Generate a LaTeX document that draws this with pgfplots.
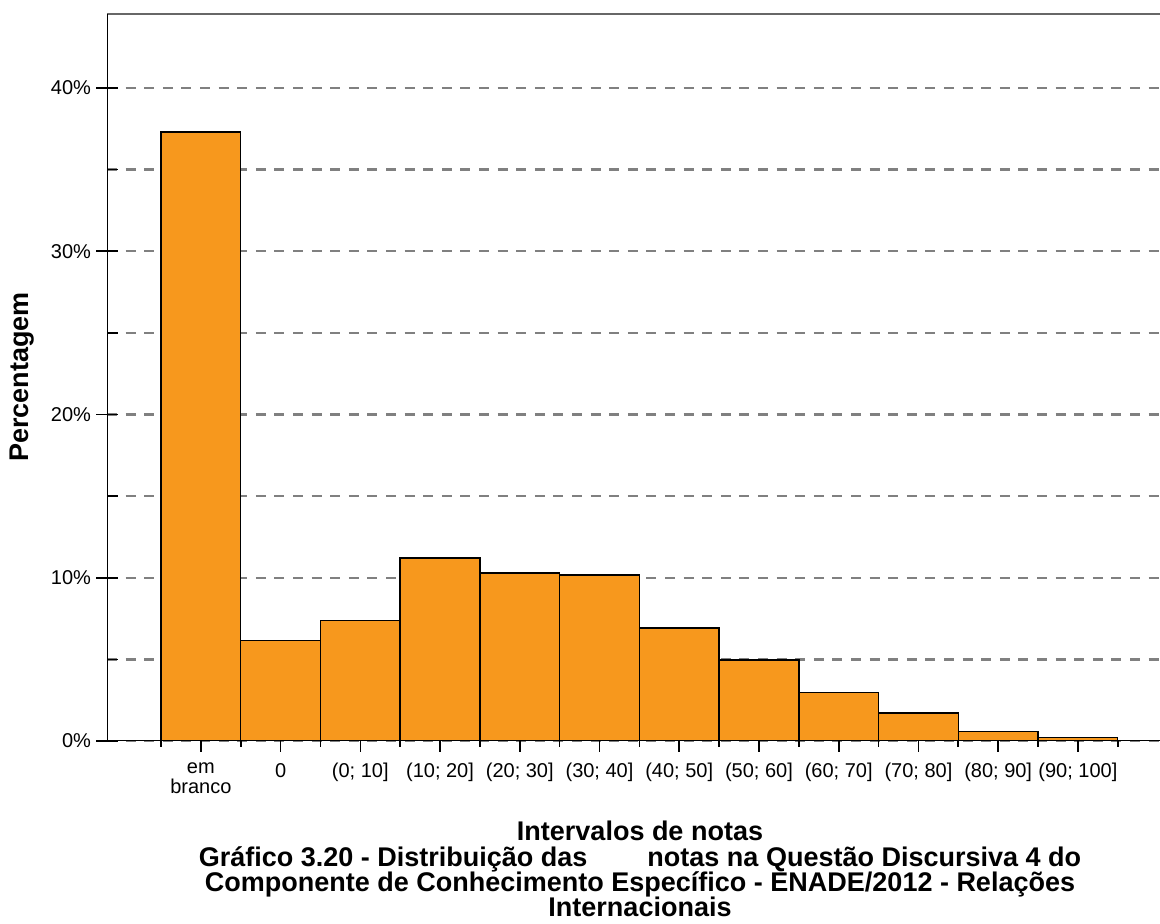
\documentclass[border=0pt]{standalone}
\usepackage{pgfplots}
\pgfplotsset{compat=1.18}
\usepackage{fontspec}
\setmainfont{Liberation Sans}
\definecolor{barorange}{RGB}{247,152,29}
\definecolor{gridgray}{RGB}{128,128,128}

\pgfplotsset{
    frame/.style={
        at={(53.5pt,91.5pt)}, anchor=south west,
        scale only axis,
        width=526.5pt, height=363.5pt,
        xmin=-1.177, xmax=12.03,
        ymin=0, ymax=44.53,
        axis line style={draw=none},
        every tick/.style={black, line width=0.8pt},
    },
}

\begin{document}
\begin{tikzpicture}
% 1 px of the reference = 0.5pt
\useasboundingbox (0,0) rectangle (580pt,462pt);
% bars, grid and the 10% ticks
\begin{axis}[
    frame,
    xtick=\empty,
    ytick={0,10,20,30,40},
    yticklabels={0\%,10\%,20\%,30\%,40\%},
    ytick pos=left, ytick align=center,
    major tick length=11pt,
    extra y ticks={5,15,25,35},
    extra y tick labels={},
    extra y tick style={grid=major, tick style={draw=none}},
    ymajorgrids=true,
    major grid style={gridgray, line width=1.2pt, dash pattern=on 5pt off 4.3pt},
    yticklabel style={font=\fontsize{10}{11}\selectfont, xshift=1pt},
]
\addplot[ybar, bar width=1, fill=barorange, draw=black, line width=0.7pt]
coordinates{(0,37.3)(1,6.14)(2,7.39)(3,11.21)(4,10.29)(5,10.17)(6,6.92)(7,4.96)(8,2.96)(9,1.72)(10,0.57)(11,0.23)};
\end{axis}
% category ticks, 5% ticks and the axis lines
\begin{axis}[
    frame,
    xtick={0,...,11},
    xticklabels={{em\\branco},0,{(0; 10]},{(10; 20]},{(20; 30]},{(30; 40]},{(40; 50]},{(50; 60]},{(60; 70]},{(70; 80]},{(80; 90]},{(90; 100]}},
    minor xtick={-0.5,0.5,...,11.5},
    xtick pos=bottom, xtick align=outside,
    ytick={5,15,25,35}, yticklabels={},
    ytick pos=left, ytick align=inside,
    major tick length=5.5pt,
    minor tick length=3pt,
    xticklabel style={font=\fontsize{10}{10}\selectfont, align=center, yshift=-2pt},
]
\draw[gridgray!80!black, line width=1pt] (rel axis cs:0,1) -- (rel axis cs:1,1);
\draw[black, line width=1pt] (rel axis cs:0,0) -- (rel axis cs:0,1);
\draw[black, line width=1pt] (rel axis cs:0,0) -- (rel axis cs:1,0);
\end{axis}
\node[rotate=90, font=\fontsize{13.5}{14}\selectfont\bfseries] at (11pt,273.5pt) {Percentagem};
\begin{scope}[every node/.style={anchor=base, inner sep=0pt, font=\fontsize{13.5}{14}\selectfont\bfseries}]
\node at (320pt,41.5pt) {Intervalos de notas};
\node at (320pt,28.5pt) {Gráfico 3.20 - Distribuição das\hspace*{30pt}notas na Questão Discursiva 4 do};
\node at (320pt,16pt) {Componente de Conhecimento Específico - ENADE/2012 - Relações};
\node at (320pt,3.5pt) {Internacionais};
\end{scope}
\end{tikzpicture}
\end{document}
